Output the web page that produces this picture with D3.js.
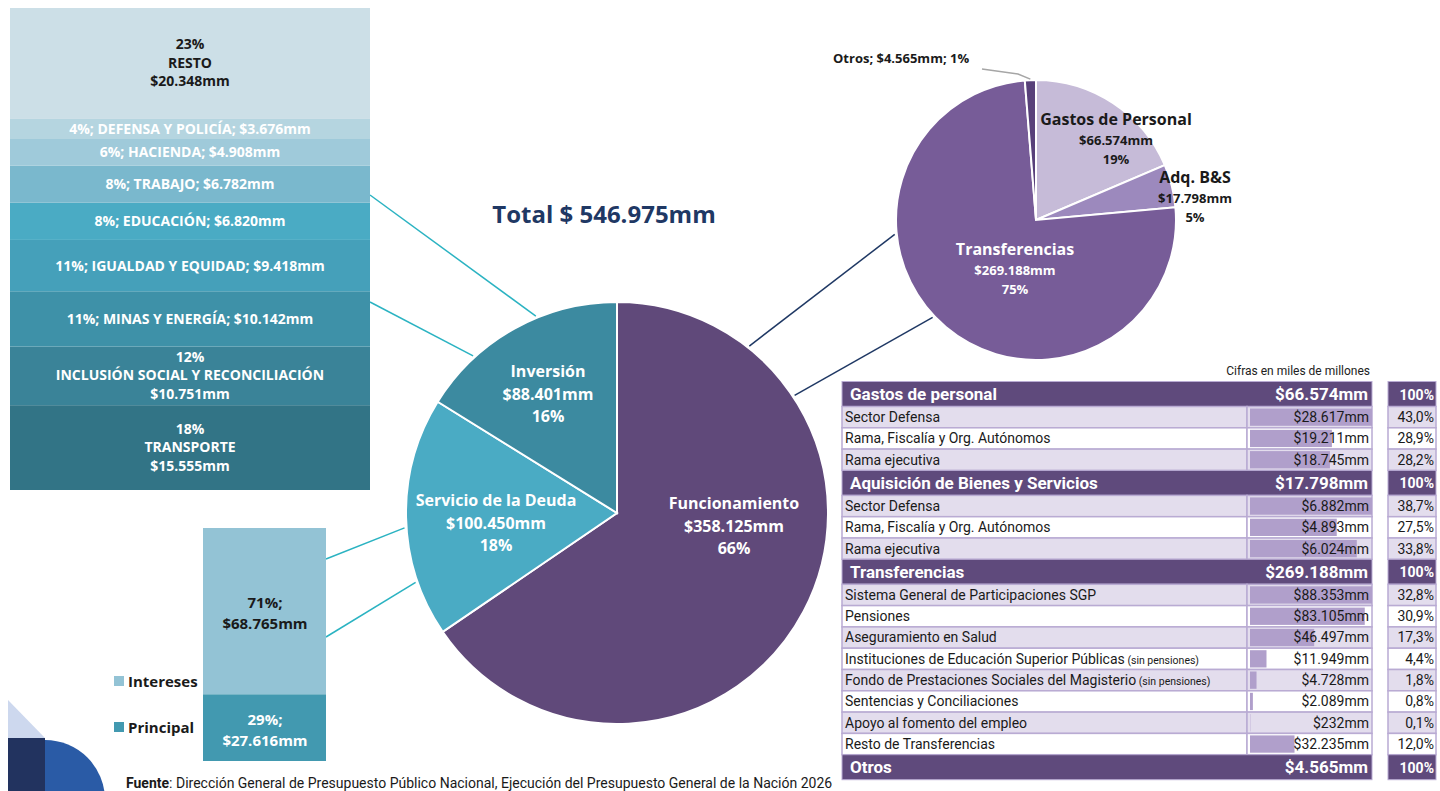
<!DOCTYPE html>
<html>
<head>
<meta charset="utf-8">
<script src="https://cdn.jsdelivr.net/npm/d3@7"></script>
<style>
  body { margin: 0; background: #fff; }
  svg { display: block; font-family: "Open Sans", sans-serif; }
</style>
</head>
<body>
<div id="chart"></div>
<script>
// presupuesto total, cifras en miles de millones
var mainCats = ["Funcionamiento", "Servicio de la Deuda", "Inversión"];
var mainVals = [358125, 100450, 88401];
var mainPct = [66, 18, 16];
var totalVal = 546975;

// desglose de funcionamiento
var funcCats = ["Gastos de Personal", "Adq. B&S", "Transferencias", "Otros"];
var funcVals = [66574, 17798, 269188, 4565];
var funcPct = [19, 5, 75, 1];

// inversion por sector (de abajo hacia arriba)
var invCats = ["TRANSPORTE", "INCLUSIÓN SOCIAL Y RECONCILIACIÓN", "MINAS Y ENERGÍA", "IGUALDAD Y EQUIDAD",
               "EDUCACIÓN", "TRABAJO", "HACIENDA", "DEFENSA Y POLICÍA", "RESTO"];
var invVals = [15555, 10751, 10142, 9418, 6820, 6782, 4908, 3676, 20348];

// servicio de la deuda
var deudaCats = ["Principal", "Intereses"];
var deudaVals = [27616, 68765];

// tabla
var tabGroups = ["Gastos de personal", "Aquisición de Bienes y Servicios", "Transferencias", "Otros"];
var tabTotals = [66574, 17798, 269188, 4565];
var gpRows = ["Sector Defensa", "Rama, Fiscalía y Org. Autónomos", "Rama ejecutiva"];
var gpVals = [28617, 19211, 18745];
var bsRows = ["Sector Defensa", "Rama, Fiscalía y Org. Autónomos", "Rama ejecutiva"];
var bsVals = [6882, 4893, 6024];
var trRows = ["Sistema General de Participaciones SGP", "Pensiones", "Aseguramiento en Salud",
              "Instituciones de Educación Superior Públicas", "Fondo de Prestaciones Sociales del Magisterio",
              "Sentencias y Conciliaciones", "Apoyo al fomento del empleo", "Resto de Transferencias"];
var trNotes = ["", "", "", "(sin pensiones)", "(sin pensiones)", "", "", ""];
var trVals = [88353, 83105, 46497, 11949, 4728, 2089, 232, 32235];

var w = 1440, h = 791;

var loc = d3.formatLocale({decimal: ",", thousands: ".", grouping: [3], currency: ["$", ""]});
var fmtMM = function(v) { return "$" + loc.format(",")(v) + "mm"; };
var fmtPct = loc.format(".1%");

var svg = d3.select("#chart").append("svg")
    .attr("width", w)
    .attr("height", h);

// helper: point on a circle, angle in degrees clockwise from 12 o'clock
function onCircle(cx, cy, r, deg) {
  var a = deg * Math.PI / 180;
  return [cx + r * Math.sin(a), cy - r * Math.cos(a)];
}

var mainC = [617, 513], mainR = 211;
var smallC = [1036, 220], smallR = 140;

//connector lines (drawn first so they sit under everything)
var teal = "#2bb3c2", navy = "#1f3864";
var connectors = [
  {from: [370, 195], to: onCircle(mainC[0], mainC[1], mainR + 2, 337.6), c: teal},
  {from: [370, 302], to: onCircle(mainC[0], mainC[1], mainR + 2, 317.5), c: teal},
  {from: [326, 559], to: onCircle(mainC[0], mainC[1], mainR + 2, 266), c: teal},
  {from: [326, 637], to: onCircle(mainC[0], mainC[1], mainR + 2, 251), c: teal},
  {from: onCircle(mainC[0], mainC[1], mainR + 2, 38.4), to: onCircle(smallC[0], smallC[1], smallR + 2, 264.2), c: navy},
  {from: onCircle(mainC[0], mainC[1], mainR + 2, 56.5), to: onCircle(smallC[0], smallC[1], smallR + 2, 226.7), c: navy}
];
svg.selectAll(".conn")
   .data(connectors)
   .enter()
   .append("line")
   .attr("class", "conn")
   .attr("x1", function(d) { return d.from[0]; })
   .attr("y1", function(d) { return d.from[1]; })
   .attr("x2", function(d) { return d.to[0]; })
   .attr("y2", function(d) { return d.to[1]; })
   .attr("stroke", function(d) { return d.c; })
   .attr("stroke-width", 1.5);

// ---------- main pie ----------
var mainColors = ["#60497a", "#4aabc4", "#3c8aa0"];
var pie = d3.pie().sort(null).value(function(d) { return d; });
var arcMain = d3.arc().innerRadius(0).outerRadius(mainR);

var gMain = svg.append("g").attr("transform", "translate(" + mainC[0] + "," + mainC[1] + ")");
gMain.selectAll("path")
     .data(pie(mainVals))
     .enter()
     .append("path")
     .attr("d", arcMain)
     .attr("fill", function(d, i) { return mainColors[i]; })
     .attr("stroke", "#fff")
     .attr("stroke-width", 2);

var mainLabelPos = [[117, 13], [-121, 10], [-69, -119]];
mainCats.forEach(function(c, i) {
  var t = gMain.append("text")
      .attr("x", mainLabelPos[i][0])
      .attr("y", mainLabelPos[i][1])
      .attr("text-anchor", "middle")
      .attr("fill", "#fff")
      .attr("font-weight", 700)
      .attr("font-size", 16);
  t.append("tspan").attr("x", mainLabelPos[i][0]).attr("dy", -17).text(c);
  t.append("tspan").attr("x", mainLabelPos[i][0]).attr("dy", 23).text(fmtMM(mainVals[i]));
  t.append("tspan").attr("x", mainLabelPos[i][0]).attr("dy", 22).text(mainPct[i] + "%");
});

svg.append("text")
   .attr("x", 604)
   .attr("y", 223)
   .attr("text-anchor", "middle")
   .attr("fill", "#1f3864")
   .attr("font-weight", 700)
   .attr("font-size", 24)
   .text("Total $ " + loc.format(",")(totalVal) + "mm");

// ---------- funcionamiento pie ----------
var funcColors = ["#c6bbd8", "#9c89bd", "#775c98", "#58407a"];
var arcSmall = d3.arc().innerRadius(0).outerRadius(smallR);
var gSmall = svg.append("g").attr("transform", "translate(" + smallC[0] + "," + smallC[1] + ")");
var funcArcs = pie(funcVals);
gSmall.selectAll("path")
      .data(funcArcs)
      .enter()
      .append("path")
      .attr("d", arcSmall)
      .attr("fill", function(d, i) { return funcColors[i]; })
      .attr("stroke", "#fff")
      .attr("stroke-width", 2);

var funcLabelPos = [[80, -95], [159, -37], [-21, 35]];
var funcLabelCol = ["#1a1a1a", "#1a1a1a", "#fff"];
[0, 1, 2].forEach(function(i) {
  var t = gSmall.append("text")
      .attr("x", funcLabelPos[i][0])
      .attr("y", funcLabelPos[i][1])
      .attr("text-anchor", "middle")
      .attr("fill", funcLabelCol[i])
      .attr("font-weight", 700);
  t.append("tspan").attr("x", funcLabelPos[i][0]).attr("font-size", 16).text(funcCats[i]);
  t.append("tspan").attr("x", funcLabelPos[i][0]).attr("dy", 20).attr("font-size", 13).text(fmtMM(funcVals[i]));
  t.append("tspan").attr("x", funcLabelPos[i][0]).attr("dy", 19).attr("font-size", 13).text(funcPct[i] + "%");
});

// Otros: label outside with leader
var otrosEnd = onCircle(smallC[0], smallC[1], smallR + 1, (funcArcs[3].startAngle + funcArcs[3].endAngle) / 2 * 180 / Math.PI);
svg.append("polyline")
   .attr("points", [[982, 69], [1018, 74], otrosEnd].map(function(p) { return p.join(","); }).join(" "))
   .attr("fill", "none")
   .attr("stroke", "#a6a6a6")
   .attr("stroke-width", 1.5);
svg.append("text")
   .attr("x", 833)
   .attr("y", 63)
   .attr("fill", "#1a1a1a")
   .attr("font-weight", 700)
   .attr("font-size", 13)
   .text(funcCats[3] + "; " + fmtMM(funcVals[3]) + "; " + funcPct[3] + "%");

// ---------- inversion stacked bar ----------
var invTotal = d3.sum(invVals);
var invColors = ["#327486", "#3a8398", "#3e91a8", "#45a0ba", "#4aabc4", "#7ab8cd", "#9fcada", "#b5d5e0", "#ccdfe7"];
var yInv = d3.scaleLinear().domain([0, invTotal]).range([490, 8]);
var invCum = [];
var acc = 0;
invVals.forEach(function(v) { invCum.push([acc, acc + v]); acc += v; });

svg.selectAll(".inv")
   .data(invCum)
   .enter()
   .append("rect")
   .attr("class", "inv")
   .attr("x", 10)
   .attr("width", 360)
   .attr("y", function(d) { return yInv(d[1]); })
   .attr("height", function(d) { return yInv(d[0]) - yInv(d[1]); })
   .attr("fill", function(d, i) { return invColors[i]; });

invCum.forEach(function(d, i) {
  var cy = (yInv(d[0]) + yInv(d[1])) / 2;
  var pct = Math.round(invVals[i] / invTotal * 100) + "%";
  var col = i === invVals.length - 1 ? "#1a1a1a" : "#fff";
  var t = svg.append("text")
      .attr("x", 190)
      .attr("text-anchor", "middle")
      .attr("fill", col)
      .attr("font-weight", 700)
      .attr("font-size", 14);
  if (invVals[i] > 10500) {
    t.attr("y", cy - 14);
    t.append("tspan").attr("x", 190).text(pct);
    t.append("tspan").attr("x", 190).attr("dy", 18.5).text(invCats[i]);
    t.append("tspan").attr("x", 190).attr("dy", 18.5).text(fmtMM(invVals[i]));
  } else {
    t.attr("y", cy + 5).text(pct + "; " + invCats[i] + "; " + fmtMM(invVals[i]));
  }
});

// ---------- deuda stacked bar ----------
var deudaTotal = d3.sum(deudaVals);
var deudaColors = ["#4299b0", "#93c3d5"];
var yDeu = d3.scaleLinear().domain([0, deudaTotal]).range([761, 528]);
var deuCum = [[0, deudaVals[0]], [deudaVals[0], deudaTotal]];
svg.selectAll(".deu")
   .data(deuCum)
   .enter()
   .append("rect")
   .attr("class", "deu")
   .attr("x", 203)
   .attr("width", 123)
   .attr("y", function(d) { return yDeu(d[1]); })
   .attr("height", function(d) { return yDeu(d[0]) - yDeu(d[1]); })
   .attr("fill", function(d, i) { return deudaColors[i]; });

deuCum.forEach(function(d, i) {
  var cy = (yDeu(d[0]) + yDeu(d[1])) / 2;
  var t = svg.append("text")
      .attr("x", 265)
      .attr("y", cy - 3)
      .attr("text-anchor", "middle")
      .attr("fill", i === 0 ? "#fff" : "#1a1a1a")
      .attr("font-weight", 700)
      .attr("font-size", 15);
  t.append("tspan").attr("x", 265).text(Math.round(deudaVals[i] / deudaTotal * 100) + "%;");
  t.append("tspan").attr("x", 265).attr("dy", 21).text(fmtMM(deudaVals[i]));
});

// legend
var legY = [728, 682];
deudaCats.forEach(function(c, i) {
  svg.append("rect")
     .attr("x", 114).attr("y", legY[i] - 6)
     .attr("width", 10).attr("height", 10)
     .attr("fill", deudaColors[i]);
  svg.append("text")
     .attr("x", 128).attr("y", legY[i] + 5)
     .attr("fill", "#1a1a1a")
     .attr("font-weight", 700)
     .attr("font-size", 15)
     .text(c);
});

// ---------- tabla ----------
var tx0 = 842, tx1 = 1247, tx2 = 1372, px0 = 1388, px1 = 1436;
var hdrH = 25, rowH = 21.3;
var purple = "#5f4a7c", lav = "#e3dded", border = "#b9abd3", barCol = "#b09fcb";
var tabFont = "Roboto, sans-serif";

svg.append("text")
   .attr("x", tx2 - 2)
   .attr("y", 375)
   .attr("text-anchor", "end")
   .attr("font-family", tabFont)
   .attr("font-size", 12)
   .attr("fill", "#222")
   .text("Cifras en miles de millones");

var groupsData = [
  {rows: gpRows, vals: gpVals, notes: []},
  {rows: bsRows, vals: bsVals, notes: []},
  {rows: trRows, vals: trVals, notes: trNotes},
  {rows: [], vals: [], notes: []}
];

var yCur = 381.5;
groupsData.forEach(function(g, gi) {
  // header row
  svg.append("rect").attr("x", tx0).attr("y", yCur).attr("width", tx2 - tx0).attr("height", hdrH)
     .attr("fill", purple).attr("stroke", border).attr("stroke-width", 1);
  svg.append("rect").attr("x", px0).attr("y", yCur).attr("width", px1 - px0).attr("height", hdrH)
     .attr("fill", purple).attr("stroke", border).attr("stroke-width", 1);
  svg.append("text").attr("x", tx0 + 8).attr("y", yCur + 18.5)
     .attr("font-family", tabFont).attr("font-weight", 700).attr("font-size", 17).attr("fill", "#fff")
     .text(tabGroups[gi]);
  svg.append("text").attr("x", tx2 - 4).attr("y", yCur + 18.5).attr("text-anchor", "end")
     .attr("font-family", tabFont).attr("font-weight", 700).attr("font-size", 17).attr("fill", "#fff")
     .text(fmtMM(tabTotals[gi]));
  svg.append("text").attr("x", px1 - 2).attr("y", yCur + 18)
     .attr("text-anchor", "end")
     .attr("font-family", tabFont).attr("font-weight", 700).attr("font-size", 14).attr("fill", "#fff")
     .text("100%");
  yCur += hdrH;

  var xBar = d3.scaleLinear().domain([0, d3.max(g.vals) || 1]).range([0, tx2 - tx1 - 3]);
  g.rows.forEach(function(r, ri) {
    var fill = ri % 2 === 0 ? lav : "#fff";
    svg.append("rect").attr("x", tx0).attr("y", yCur).attr("width", tx1 - tx0).attr("height", rowH)
       .attr("fill", fill).attr("stroke", border).attr("stroke-width", 1.5);
    svg.append("rect").attr("x", tx1).attr("y", yCur).attr("width", tx2 - tx1).attr("height", rowH)
       .attr("fill", fill).attr("stroke", border).attr("stroke-width", 1.5);
    svg.append("rect").attr("x", px0).attr("y", yCur).attr("width", px1 - px0).attr("height", rowH)
       .attr("fill", fill).attr("stroke", border).attr("stroke-width", 1.5);
    svg.append("rect").attr("x", tx1 + 3).attr("y", yCur + 2).attr("width", xBar(g.vals[ri]))
       .attr("height", rowH - 4).attr("fill", barCol);
    var t = svg.append("text").attr("x", tx0 + 3).attr("y", yCur + 15.5)
       .attr("font-family", tabFont).attr("font-size", 14).attr("fill", "#1a1a1a");
    t.append("tspan").text(r);
    if (g.notes[ri]) t.append("tspan").attr("font-size", 10.5).text(" " + g.notes[ri]);
    svg.append("text").attr("x", tx2 - 3).attr("y", yCur + 15.5).attr("text-anchor", "end")
       .attr("font-family", tabFont).attr("font-size", 14).attr("fill", "#1a1a1a")
       .text(fmtMM(g.vals[ri]));
    svg.append("text").attr("x", px1 - 2).attr("y", yCur + 15.5).attr("text-anchor", "end")
       .attr("font-family", tabFont).attr("font-size", 14).attr("fill", "#1a1a1a")
       .text(fmtPct(g.vals[ri] / tabTotals[gi]));
    yCur += rowH;
  });
});

// ---------- logo y fuente ----------
svg.append("path").attr("d", "M8,700 L45,738 L8,738 Z").attr("fill", "#cdd8ee");
svg.append("rect").attr("x", 8).attr("y", 738).attr("width", 37).attr("height", 53).attr("fill", "#22335f");
svg.append("path").attr("d", "M45,740 A60,60 0 0 1 105,800 L45,800 Z").attr("fill", "#2a5ba6");

var src = svg.append("text").attr("x", 126).attr("y", 788)
   .attr("font-family", tabFont).attr("font-size", 14).attr("fill", "#1a1a1a");
src.append("tspan").attr("font-weight", 700).text("Fuente");
src.append("tspan").text(": Dirección General de Presupuesto Público Nacional, Ejecución del Presupuesto General de la Nación 2026");
</script>
</body>
</html>
